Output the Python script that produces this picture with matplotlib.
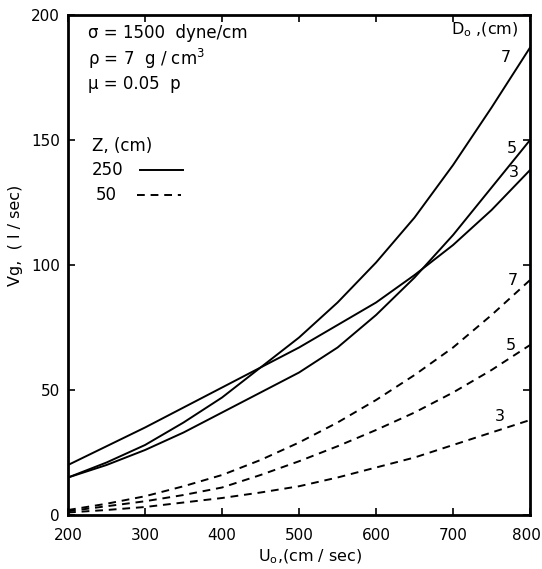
import matplotlib.pyplot as plt
import matplotlib.transforms as mtransforms

# Uo (cm/sec)
u0 = [200, 250, 300, 350, 400, 450, 500, 550, 600, 650, 700, 750, 800]

# Vg (l/sec), Z = 250 cm
vg_250_d3 = [20, 27.5, 35, 43, 51, 59, 67, 76, 85, 96, 108, 122, 138]
vg_250_d5 = [15, 20, 26, 33, 41, 49, 57, 67, 80, 95, 112, 131, 150]
vg_250_d7 = [15, 21, 28, 37, 47, 59, 71, 85, 101, 119, 140, 163, 187]

# Vg (l/sec), Z = 50 cm
vg_50_d3 = [1, 2, 3.2, 5, 6.8, 9, 11.5, 15, 19, 23, 28, 33, 38]
vg_50_d5 = [1.5, 3.5, 5.5, 8, 11, 16, 21.5, 27.5, 34, 41, 49, 58, 68]
vg_50_d7 = [2, 4.5, 7.5, 11.5, 16, 22, 29, 37, 46, 56, 67, 80, 94]

diam_labels = ['3', '5', '7']

plt.rcParams['font.family'] = 'DejaVu Sans'
fig = plt.figure(figsize=(5.42, 5.69), dpi=100)
ax = fig.add_axes([0.1255, 0.0949, 0.8525, 0.8787])

dash = (0, (4, 3))
for ys in (vg_250_d3, vg_250_d5, vg_250_d7):
    ax.plot(u0, ys, color='black', lw=1.4)
for ys in (vg_50_d3, vg_50_d5, vg_50_d7):
    ax.plot(u0, ys, color='black', lw=1.4, linestyle=dash)

ax.set_xlim(200, 800)
ax.set_ylim(0, 200)
ax.set_xticks(range(200, 801, 100))
ax.set_yticks(range(0, 201, 50))
ax.tick_params(direction='in', length=5, width=1.2, labelsize=11,
               top=True, right=True)
ax.tick_params(axis='x', pad=9)
ax.tick_params(axis='y', pad=6)
for s in ax.spines.values():
    s.set_linewidth(2)

# nudge the last x tick label so it stays inside the figure
fig.canvas.draw()
lbl = ax.get_xticklabels()[-1]
lbl.set_transform(lbl.get_transform() +
                  mtransforms.ScaledTranslation(-4 / 100, 0, fig.dpi_scale_trans))

ax.set_xlabel(r'U$_\mathrm{o}$,(cm / sec)', fontsize=11.5)
ax.xaxis.set_label_coords(0.524, -0.065)
ax.set_ylabel('Vg,  ( l / sec)', fontsize=11.5)
ax.yaxis.set_label_coords(-0.098, 0.56)

# curve labels near the right end (offsets in pixels)
solid_off = [(-16, -2), (-18, -8), (-24, -10)]
dashed_off = [(-30, 4), (-19, 0), (-17, 0)]
for lab, ys, off in zip(diam_labels, (vg_250_d3, vg_250_d5, vg_250_d7), solid_off):
    ax.annotate(lab, (u0[-1], ys[-1]), xytext=off, textcoords='offset pixels',
                ha='center', va='center', fontsize=11.5)
for lab, ys, off in zip(diam_labels, (vg_50_d3, vg_50_d5, vg_50_d7), dashed_off):
    ax.annotate(lab, (u0[-1], ys[-1]), xytext=off, textcoords='offset pixels',
                ha='center', va='center', fontsize=11.5)

ax.text(0.975, 0.97, r'D$_\mathrm{o}$ ,(cm)', transform=ax.transAxes,
        ha='right', va='center', fontsize=11.5)

# property text block
ax.text(0.043, 0.964, 'σ = 1500  dyne/cm', transform=ax.transAxes, ha='left', va='center', fontsize=12)
ax.text(0.043, 0.912, 'ρ = 7  g / cm$^3$', transform=ax.transAxes, ha='left', va='center', fontsize=12)
ax.text(0.043, 0.862, 'μ = 0.05  p', transform=ax.transAxes, ha='left', va='center', fontsize=12)

# legend
ax.text(0.052, 0.738, 'Z, (cm)', transform=ax.transAxes, ha='left', va='center', fontsize=12)
ax.text(0.052, 0.69, '250', transform=ax.transAxes, ha='left', va='center', fontsize=12)
ax.text(0.06, 0.64, '50', transform=ax.transAxes, ha='left', va='center', fontsize=12)
ax.plot([0.156, 0.249], [0.69, 0.69], transform=ax.transAxes, color='black', lw=1.4)
ax.plot([0.149, 0.244], [0.64, 0.64], transform=ax.transAxes, color='black', lw=1.4,
        linestyle=dash)

fig.savefig('out.png', dpi=100)
